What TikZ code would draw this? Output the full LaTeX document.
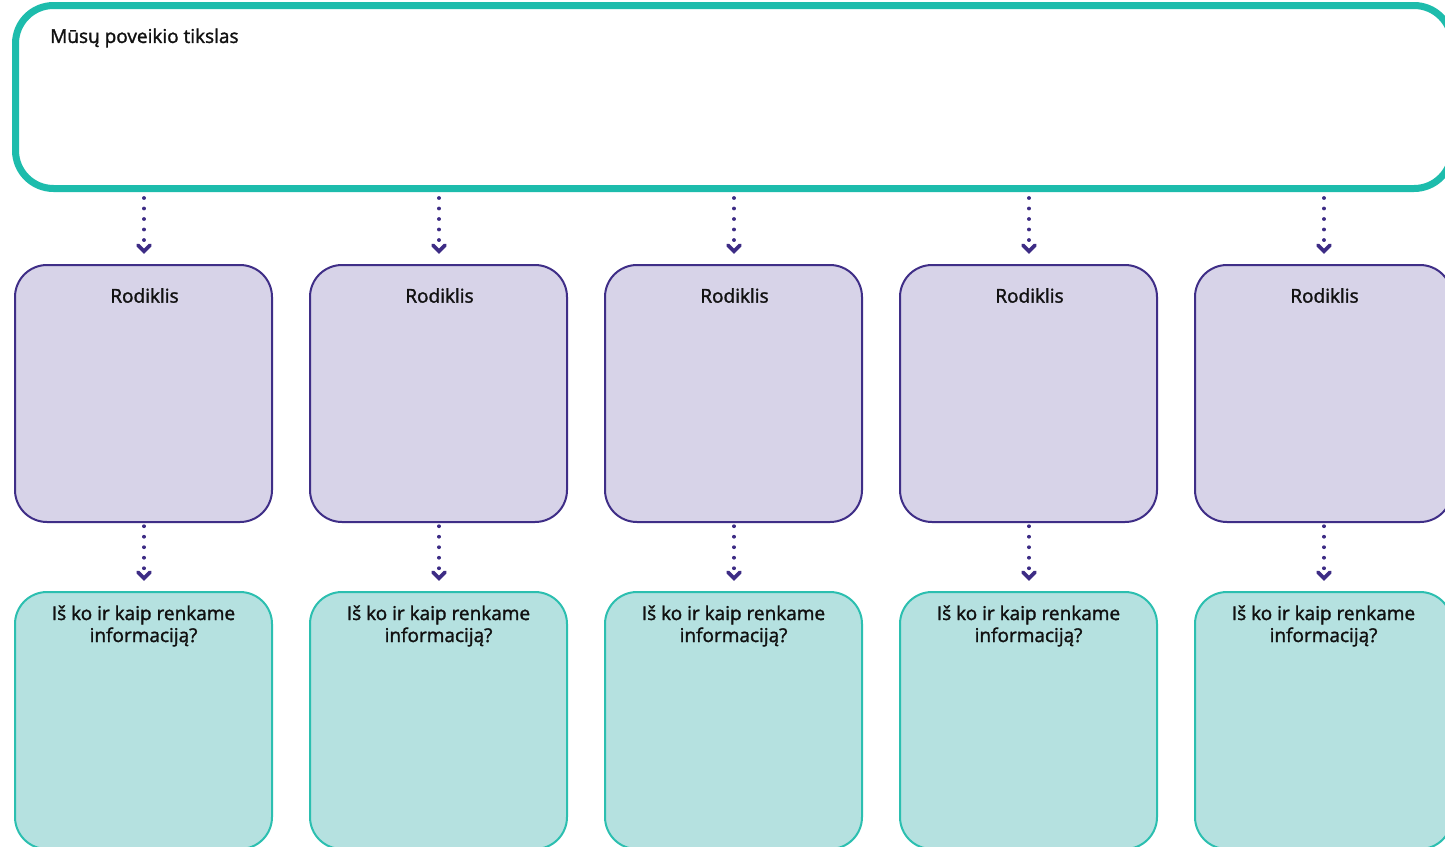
\documentclass[tikz,border=0pt]{standalone}
\usepackage{fontspec}
\setmainfont{Open Sans}
\newfontfamily\lblfont{Open Sans}[UprightFeatures={FakeBold=1.6}]
\usetikzlibrary{arrows.meta}
\definecolor{goalteal}{HTML}{1DBCAC}
\definecolor{pfill}{HTML}{D7D3E8}
\definecolor{pline}{HTML}{3F2E87}
\definecolor{tfill}{HTML}{B5E1E0}
\definecolor{tline}{HTML}{2CBFB0}
\definecolor{arr}{HTML}{3D2C85}
\definecolor{txt}{HTML}{111111}
\tikzset{
  goalbox/.style={draw=goalteal, line width=7pt, rounded corners=38pt, fill=white},
  indbox/.style={draw=pline, fill=pfill, line width=2pt, rounded corners=32pt},
  infobox/.style={draw=tline, fill=tfill, line width=2pt, rounded corners=32pt},
  lbl/.style={font=\lblfont\fontsize{19}{22}\selectfont, text=txt, align=center, inner sep=0pt},
  dotarrow/.style={draw=arr, line width=3.8pt, line cap=round, dash pattern=on 0.01pt off 10.5pt,
    -{Straight Barb[length=6pt,width=12pt,line width=3.6pt,line cap=round]}},
}
\begin{document}
\begin{tikzpicture}[x=1pt,y=-1pt]
\useasboundingbox (0,0) rectangle (1445,846);
\clip (0,0) rectangle (1445,846);
\fill[white] (0,0) rectangle (1445,846);
% goal box
\draw[goalbox] (15.5,5.5) rectangle (1452,188.5);
\node[lbl, anchor=west] (goaltxt) at (50,38) {Mūsų poveikio tikslas};
% columns
\foreach \i/\cx in {1/143.5,2/438.5,3/733.5,4/1028.5,5/1323.5}{
  \path[indbox] (\cx-128.5,265) rectangle (\cx+128.5,522);
  \node[minimum width=257pt, minimum height=257pt, inner sep=0pt] (p\i) at (\cx,393.5) {};
  \node[lbl] (p\i t) at (\cx+1,295.5) {Rodiklis};
  \path[infobox] (\cx-128.5,592) rectangle (\cx+128.5,849);
  \node[minimum width=257pt, minimum height=257pt, inner sep=0pt] (t\i) at (\cx,720.5) {};
  \node[lbl] (t\i t) at (\cx,626) {Iš ko ir kaip renkame\\informaciją?};
  \coordinate (top\i) at (\cx+0.5,198);
  \draw[dotarrow] (top\i) -- ([xshift=0.5pt,yshift=11pt]p\i.north);
  \draw[dotarrow] ([xshift=0.5pt,yshift=-4pt]p\i.south) -- ([xshift=0.5pt,yshift=11pt]t\i.north);
}
\end{tikzpicture}
\end{document}
